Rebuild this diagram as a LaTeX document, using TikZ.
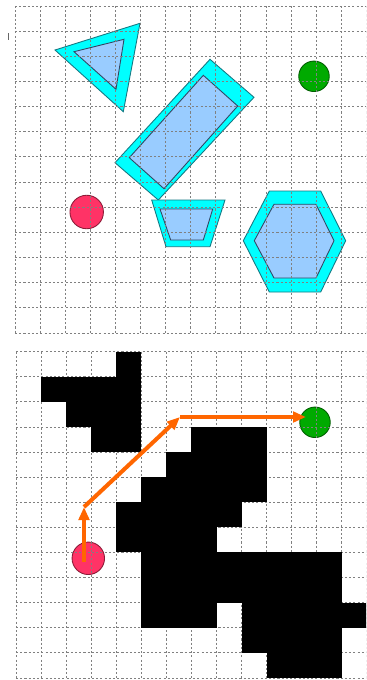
\documentclass[tikz,border=0pt]{standalone}
\usepackage{tikz}
\usetikzlibrary{arrows.meta}
\definecolor{cyanfill}{RGB}{0,255,255}
\definecolor{cyanedge}{RGB}{20,120,130}
\definecolor{innerfill}{RGB}{153,204,255}
\definecolor{inneredge}{RGB}{50,70,100}
\definecolor{startred}{RGB}{255,51,102}
\definecolor{goalgreen}{RGB}{0,170,0}
\definecolor{pathorange}{RGB}{255,102,0}
\tikzset{
    gridline/.style={black!50,line width=0.5pt,dash pattern=on 1.2pt off 1.2pt},
    outer/.style={fill=cyanfill,draw=cyanedge,line width=0.5pt},
    inner/.style={fill=innerfill,draw=inneredge,line width=0.5pt},
    startpt/.style={circle,fill=startred,draw=startred!55!black,line width=0.5pt,inner sep=0pt},
    goalpt/.style={circle,fill=goalgreen,draw=goalgreen!55!black,line width=0.5pt,inner sep=0pt},
    occ/.style={fill=black},
    move/.style={draw=pathorange,line width=2.3pt,-{Triangle[length=2.6mm,width=2.1mm]}},
}

\begin{document}
\begin{tikzpicture}[x=0.02cm,y=-0.02cm]
\useasboundingbox (0,0) rectangle (366,680);
\clip (0,0) rectangle (366,680);
\draw[black!60,line width=0.4pt] (8,33) -- (8,40);
% upper panel: obstacles and their grown versions
\filldraw[outer] (55,50) -- (140,23.3) -- (123.3,111.7) -- cycle;
\filldraw[inner] (74,51.7) -- (124,39.3) -- (116,89.3) -- cycle;
\filldraw[outer] (210,59.3) -- (254,97.3) -- (158.3,200) -- (115,162.7) -- cycle;
\filldraw[inner] (203.3,75.3) -- (237.7,106) -- (164,188.7) -- (129.3,157.7) -- cycle;
\filldraw[outer] (151.7,200) -- (225,200) -- (210,246.7) -- (166,246.7) -- cycle;
\filldraw[inner] (160,209) -- (212.7,209) -- (203.3,240) -- (170.7,240) -- cycle;
\filldraw[outer] (269.3,191) -- (320.7,191) -- (345.7,240.7) -- (320.7,292) -- (269.3,292) -- (243.3,240.7) -- cycle;
\filldraw[inner] (274,204.3) -- (316,204.3) -- (334,240.7) -- (316,278) -- (274,278) -- (254.3,240.7) -- cycle;
\node[goalpt,minimum size=0.61cm]  (goalA)  at (314,76.3) {};
\node[startpt,minimum size=0.67cm] (startA) at (86.7,212) {};
\foreach \i in {0,...,14} \draw[gridline] (15+25.1*\i,6) -- (15+25.1*\i,333);
\foreach \j in {0,...,13} \draw[gridline] (15,6+25.15*\j) -- (370,6+25.15*\j);
% lower panel: occupancy grid and path
\node[goalpt,minimum size=0.61cm]  (goalB)  at (315,422.3) {};
\node[startpt,minimum size=0.65cm] (startB) at (88.3,558.3) {};
\begin{scope}[shift={(16,351.7)},x=0.5014cm,y=-0.502cm]
\foreach \i in {0,...,14} \draw[gridline] (\i,0) -- (\i,13);
\foreach \j in {0,...,13} \draw[gridline] (0,\j) -- (14.5,\j);
\foreach \r/\a/\b in {0/4/4,1/1/4,2/2/4,3/3/4,3/7/9,4/6/9,5/5/9,6/4/8,7/4/7,
                      8/5/12,9/5/12,10/5/7,10/9/13,11/9/12,12/10/12}
  \fill[occ] (\a,\r) rectangle (\b+1,\r+1);
\end{scope}
\coordinate (w0) at (84,562);
\coordinate (w1) at (84,507);
\coordinate (w2) at (180,417);
\coordinate (w3) at (306,417);
\draw[move] (w0) -- (w1);
\draw[move] (w1) -- (w2);
\draw[move] (w2) -- (w3);
\end{tikzpicture}
\end{document}
